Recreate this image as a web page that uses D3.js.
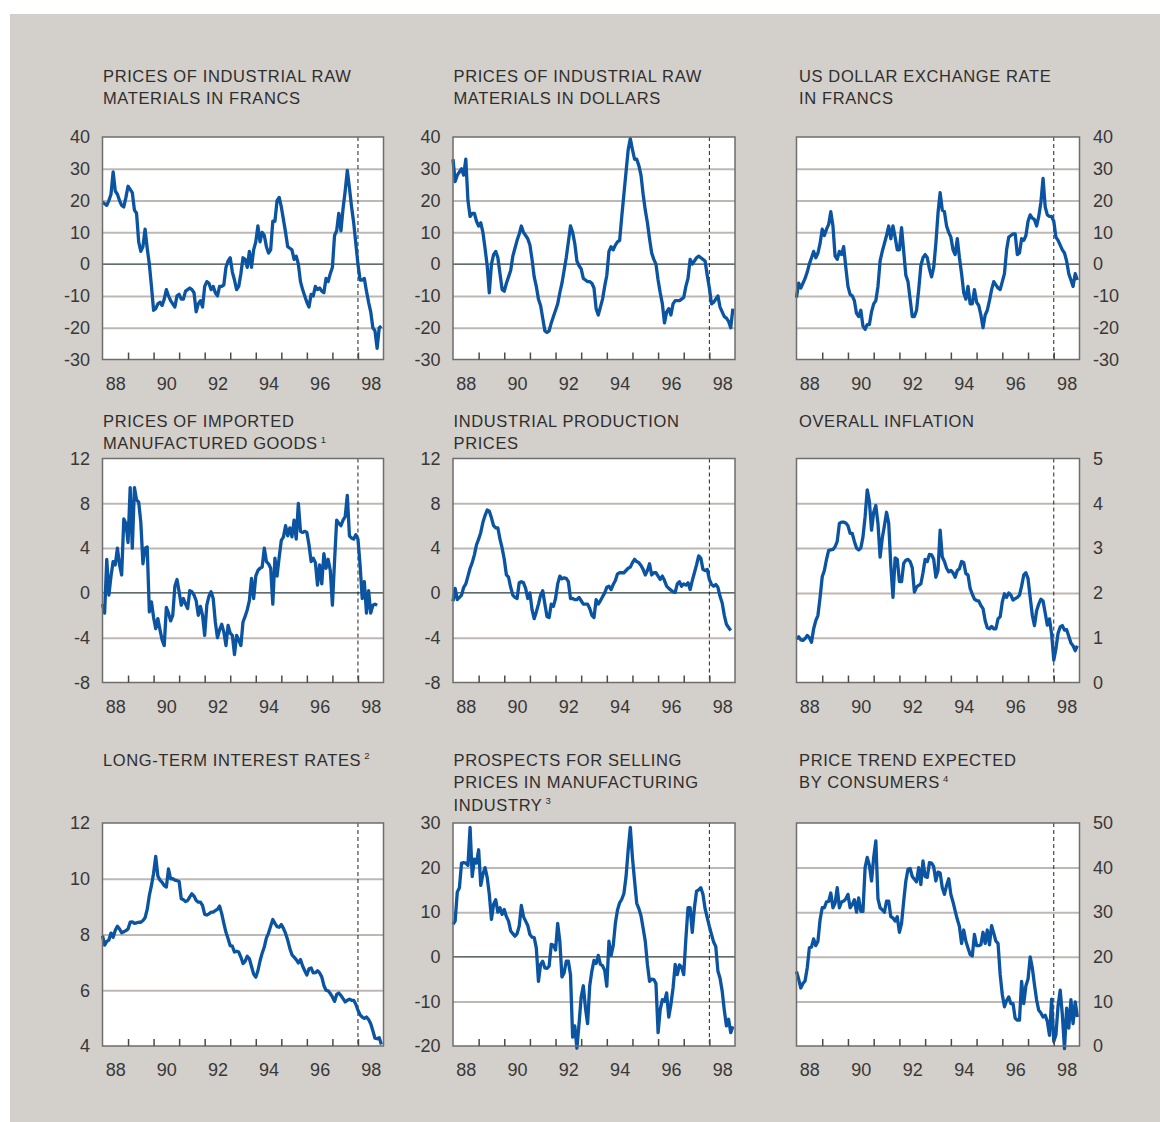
<!DOCTYPE html>
<html>
<head>
<meta charset="utf-8">
<script src="https://cdn.jsdelivr.net/npm/d3@7"></script>
<style>
  html, body { margin: 0; padding: 0; background: #ffffff; }
  svg { display: block; font-family: "Liberation Sans", Arial, Helvetica, sans-serif; }
</style>
</head>
<body>
<svg id="chart" width="1160" height="1122"></svg>
<script>
// Monthly series, January 1988 onwards (year-on-year changes / levels)
const startYear = 1988;
const yearLabels = ["88", "90", "92", "94", "96", "98"];
const labelYears = [1988.5, 1990.5, 1992.5, 1994.5, 1996.5, 1998.5];
const tickYears = [1989, 1990, 1991, 1992, 1993, 1994, 1995, 1996, 1997, 1998];
const forecastStart = 1998;

const rawFrancs = [
  19.5, 19, 18.5, 20, 22, 29, 23, 22, 20, 18.5, 18, 21,
  24.5, 23.5, 22.5, 17, 16, 7, 4, 5.5, 11, 5, 0, -7,
  -14.5, -14, -12.5, -12, -13, -11, -8, -10, -11.5, -12.5, -13.5, -10,
  -9.5, -11, -11, -8.5, -8, -7.5, -8, -9, -15, -12.5, -11.5, -13.5,
  -7, -5.5, -6, -8, -7, -9, -10, -7, -7, -6.5, -1, 1,
  2, -2.5, -5, -8, -7, -3, 2, 1.5, -1, 4, -1, 4.5,
  7, 12, 7, 10, 9, 5.5, 3.5, 4.5, 13.5, 13.5, 20, 21,
  18, 14, 10, 5.5, 5, 4.5, 1.5, 2.5, 0, -5.5, -8, -10,
  -12, -13.5, -9.5, -10, -7, -8, -7.5, -8.5, -9, -4.5, -5.5, -3,
  -1, 9, 10.5, 16, 10.5, 17.5, 23, 29.5, 24, 18, 13, 6.5,
  0, -5, -5, -4.5, -8.5, -12, -15, -20, -21, -26.5, -20, -19.5
];

const rawDollars = [
  33, 26, 28, 29, 30, 28, 33, 20, 15, 16, 16, 13.5,
  12, 13, 10, 5, -0.5, -9, 0, 3, 4, 2, -3, -8,
  -8.5, -6, -4, -2, 2.5, 5, 7.5, 9.5, 12, 10, 9, 8,
  6, 1.5, -4, -7, -11, -13, -17, -21, -21.5, -21, -18.5, -16.5,
  -14.5, -12.5, -9, -6, -2, 2, 7, 12, 10, 6.5, 1, -0.5,
  -1.5, -4.5, -5, -5.5, -5.5, -6, -7.5, -14, -16, -13.5, -11, -7,
  -3.5, 4, 5.5, 4.5, 6, 7, 7.5, 15, 22, 29, 36, 39.5,
  36, 33, 33, 31, 28, 22, 17, 13, 8, 3.5, 1.5, 0,
  -5, -9, -12.5, -18.5, -15, -14, -16, -12.5, -11.5, -11.5, -11.5, -11,
  -10.5, -7, -4.5, 1.5, 0, 1, 2, 2.5, 2, 1.5, 1, -3.5,
  -7.5, -12.5, -12, -11, -10, -13.5, -15, -16.5, -17, -18, -20, -14
];

const dollarRate = [
  -10.5, -6, -7.5, -6, -4.5, -2.5, 0, 2, 4, 2, 3.5, 6.5,
  11, 9, 11, 12.5, 16.5, 12, 2.5, 1.5, 4, 3, 5.5, -1,
  -7, -9.5, -10, -11.5, -15.5, -16.5, -14.5, -19.5, -20.5, -19, -19, -15,
  -12.5, -11.5, -7, 1, 4, 6.5, 9, 12, 8, 12, 8.5, 4.5,
  4.5, 11.5, 4, -3.5, -5.5, -11, -16.5, -16.5, -14.5, -8, -0.5, 2,
  3, 2, -1.5, -4, -1, 6.5, 16, 22.5, 17, 16.5, 12, 10,
  8.5, 4.5, 3, 8, 2, -3, -9, -11, -7, -12.5, -12.5, -8,
  -12, -13, -16, -20, -16, -14.5, -11.5, -8, -5.5, -6.5, -7.5, -8,
  -5.5, -3, 4.5, 8.5, 9, 9.5, 9.5, 3, 3.5, 8, 7.5, 9,
  13.5, 15.5, 14.5, 14, 12, 15, 19.5, 27, 18, 15.5, 15, 15,
  13.5, 8.5, 7.5, 6, 4.5, 3.5, 1, -3, -5, -7, -3, -5
];

const importedGoods = [
  -1, -1.8, 3, -0.2, 1.5, 2.8, 2.5, 4, 2.5, 1.6, 6.6, 6.2,
  4.5, 9.4, 4, 9.4, 8.3, 8.1, 6.3, 2.6, 4, 4.1, -1.7, -0.8,
  -2.2, -3.2, -2.3, -3.3, -4.2, -4.7, -1.3, -1.8, -2.5, -2, 0.6, 1.2,
  0.1, -1.1, -0.5, -1, -1.4, 0.2, 0.1, -0.2, -0.7, -2, -1.2, -2,
  -3.8, -1.1, -0.3, 0.1, -0.5, -2.6, -4, -3.3, -2.8, -3.5, -4.7, -2.9,
  -3.6, -3.8, -5.5, -3.8, -4.2, -4.7, -2.6, -2.1, -1.5, -0.7, 1.3, -0.5,
  1.5, 2, 2.2, 2.3, 4, 2.8, 2.6, 2.2, -1, 3.1, 1.5, 3.2,
  4.7, 5, 6, 5.1, 5.8, 5, 6.5, 4.8, 8, 5.5, 5.4, 5.5,
  5.4, 4.3, 2.8, 3.1, 2.7, 0.7, 2.5, 0.8, 3.5, 2.2, 3, 2,
  -1.1, 2.8, 6.5, 6.2, 6, 6.5, 6.8, 8.7, 5.1, 4.9, 4.8, 5.2,
  4.8, 2.5, -0.5, 1, -1.8, 0.2, -1.8, -1.1, -1, -1.1
];

const productionPrices = [
  -0.75, 0.4, -0.6, -0.4, -0.2, 0.5, 0.8, 1.5, 2.2, 2.7, 3.4, 4.3,
  4.8, 5.4, 6.3, 6.9, 7.4, 7.3, 6.7, 6, 5.8, 5.8, 4.8, 4,
  3, 1.6, 1.4, 0.5, -0.2, -0.4, -0.5, 0.9, 1, 0.9, 0.4, -0.5,
  0, -1.5, -2.3, -1.7, -1, -0.2, 0.2, -1, -2.1, -2.2, -1, -1.2,
  -0.5, 0.8, 1.5, 1.25, 1.35, 1.3, 1, -0.5, -0.5, -0.6, -0.6, -0.4,
  -0.7, -1, -1, -1, -1.4, -2, -2.2, -0.6, -1, -0.7, -0.35, 0,
  0.5, 0.6, 0.3, 0.75, 1.1, 1.7, 1.8, 1.8, 1.8, 2, 2.2, 2.3,
  2.7, 3, 2.8, 2.7, 2.45, 2.1, 1.6, 2, 2.6, 1.6, 1.8, 1.8,
  1.5, 1.2, 1.5, 1.1, 0.6, 0.4, 0.25, 0.1, 0.05, 0.8, 1, 0.6,
  0.8, 0.7, 0.9, 0.3, 1.1, 1.8, 2.5, 3.3, 3.1, 2.1, 2, 2.1,
  1.2, 0.75, 0.6, 0.75, 0.5, -0.3, -0.9, -2, -2.8, -3.1, -3.35
];

const overallInflation = [
  0.97, 1.02, 0.95, 0.94, 0.98, 1.05, 1.0, 0.9, 1.2, 1.38, 1.5, 1.9,
  2.36, 2.5, 2.75, 2.95, 2.96, 2.97, 3.03, 3.15, 3.55, 3.58, 3.58, 3.56,
  3.5, 3.33, 3.33, 3.15, 3.0, 2.96, 3.0, 3.25, 3.7, 4.3, 4.04, 3.4,
  3.8, 3.95, 3.55, 2.8, 3.22, 3.5, 3.8, 3.56, 2.6, 1.9, 2.78, 2.75,
  2.25, 2.25, 2.66, 2.73, 2.75, 2.7, 2.56, 2.02, 2.13, 2.17, 2.2, 2.45,
  2.75, 2.7, 2.86, 2.85, 2.75, 2.35, 2.5, 3.4, 2.8, 2.7, 2.55, 2.47,
  2.5, 2.45, 2.35, 2.5, 2.54, 2.7, 2.68, 2.43, 2.4, 2.1, 1.97, 1.86,
  1.83, 1.82, 1.72, 1.65, 1.38, 1.22, 1.2, 1.25, 1.2, 1.2, 1.42, 1.47,
  1.8, 1.98, 1.9, 2.0, 1.95, 1.84, 1.87, 1.9, 1.95, 2.15, 2.4, 2.45,
  2.32, 1.9, 1.5, 1.27, 1.6, 1.75, 1.86, 1.82, 1.55, 1.28, 1.42, 1.08,
  0.5, 0.75, 1.1, 1.24, 1.27, 1.17, 1.18, 1.03, 0.88, 0.82, 0.71, 0.82
];

const longTermRates = [
  7.96, 7.62, 7.75, 7.8, 8.05, 7.9, 8.15, 8.3, 8.2, 8.06, 8.1, 8.14,
  8.2, 8.44, 8.45, 8.4, 8.42, 8.44, 8.44, 8.5, 8.6, 8.9, 9.4, 9.76,
  10.2, 10.8, 10.1, 9.95, 9.87, 9.75, 9.7, 10.35, 10.0, 10.0, 9.95, 9.93,
  9.9, 9.28, 9.25, 9.18, 9.22, 9.35, 9.46, 9.38, 9.22, 9.16, 9.16, 9.04,
  8.72, 8.7, 8.74, 8.8, 8.8, 8.86, 8.9, 9.02, 8.75, 8.4, 8.08, 7.85,
  7.6, 7.58, 7.37, 7.4, 7.37, 7.19, 6.96, 7.04, 7.22, 7.13, 6.85, 6.58,
  6.47, 6.7, 7.05, 7.33, 7.55, 7.88, 8.05, 8.3, 8.54, 8.4, 8.28, 8.26,
  8.36, 8.22, 8.04, 7.8, 7.5, 7.27, 7.19, 7.1, 6.98, 7.1, 6.87, 6.7,
  6.55, 6.77, 6.8, 6.62, 6.63, 6.7, 6.62, 6.48, 6.17, 6.0, 5.98, 5.88,
  5.76, 5.6, 5.85, 5.9, 5.81, 5.7, 5.58, 5.64, 5.68, 5.64, 5.64, 5.5,
  5.28, 5.12, 5.04, 4.99, 5.04, 4.95, 4.8, 4.55, 4.28, 4.26, 4.3, 4.05
];

const sellingPrices = [
  7.3, 8, 14.5, 15.5, 21, 21.1, 21, 20.5, 29, 18, 21.9, 21,
  24, 16, 18.5, 20, 17.8, 14, 8.4, 11.8, 12.8, 10, 11, 9.5,
  10.6, 9, 8, 5.8, 5.2, 4.6, 5.2, 6.9, 11.5, 9, 8, 7,
  5, 4.4, 4.3, 2, -5.5, -1.7, -1, -2.5, -2.6, -2.1, 2.8, 2.6,
  1.5, 7.5, 3.5, -4.5, -3.6, -1, -1, -4, -18, -15.5, -20.5, -15,
  -9, -6.5, -11.5, -15, -6.5, -3.2, -0.8, -1.5, 0.3, -1.7, -2, -3,
  -6.6, 3.5, 0.3, 2.5, 7.5, 10.5, 12.1, 12.9, 14.2, 18, 24, 29,
  22.2, 17, 12, 10.8, 9.2, 6.4, 3.5, -1.7, -5.5, -5, -5.1, -6,
  -17, -11.8, -9.6, -10, -8.1, -13.5, -10.7, -7, -1.7, -4, -1.8, -2.3,
  -4, 4, 11, 11, 5.5, 11, 14.7, 15, 15.5, 14, 10.8, 8.8,
  6.8, 5, 3.3, 2.3, -3.2, -4.8, -7.7, -12, -15.5, -14, -17, -15.6
];

const consumerTrend = [
  16.7, 15, 13, 14, 14.6, 17.5, 22, 22.2, 24, 22.5, 23.5, 28.3,
  31, 31, 32.3, 32.4, 34.3, 31, 32, 35.5, 31, 32.3, 32.5, 33,
  34, 31, 31.7, 32.8, 30, 33.2, 30.2, 30.2, 40, 42.3, 40.5, 37,
  42.3, 46, 33, 31, 30.5, 30, 32.5, 32.5, 29, 28.7, 28, 29,
  25.5, 27.5, 32.5, 37, 39.6, 39.8, 38, 37.4, 36.8, 40, 36.2, 41.5,
  38, 37.8, 41.1, 41, 40.2, 37, 39, 38.8, 35.5, 34, 36, 37.5,
  34, 32.3, 30.3, 28.4, 26.8, 23, 26, 23.5, 22, 20.5, 20.2, 25,
  22.5, 22.5, 22.7, 25.5, 23, 26, 22.7, 27, 25.3, 23.5, 23, 16,
  11.5, 8.8, 10.2, 11, 9.5, 9.5, 6.2, 5.8, 5.8, 14.5, 9.5, 13.5,
  15, 20, 17.5, 13.7, 10.3, 8, 7.4, 6.5, 6.9, 5.5, 2.4, 10.5,
  1, 2.5, 9, 12.5, 7, -0.6, 8.5, 4, 10.4, 5, 9.9, 6.5
];

// Panel definitions: grid cell, titles, value range and axis ticks
const panels = [
  { col: 0, row: 0, title: ["PRICES OF INDUSTRIAL RAW", "MATERIALS IN FRANCS"], note: "",
    values: rawFrancs, domain: [-30, 40], ticks: [-30, -20, -10, 0, 10, 20, 30, 40], side: "left" },
  { col: 1, row: 0, title: ["PRICES OF INDUSTRIAL RAW", "MATERIALS IN DOLLARS"], note: "",
    values: rawDollars, domain: [-30, 40], ticks: [-30, -20, -10, 0, 10, 20, 30, 40], side: "left" },
  { col: 2, row: 0, title: ["US DOLLAR EXCHANGE RATE", "IN FRANCS"], note: "",
    values: dollarRate, domain: [-30, 40], ticks: [-30, -20, -10, 0, 10, 20, 30, 40], side: "right" },
  { col: 0, row: 1, title: ["PRICES OF IMPORTED", "MANUFACTURED GOODS"], note: "1",
    values: importedGoods, domain: [-8, 12], ticks: [-8, -4, 0, 4, 8, 12], side: "left" },
  { col: 1, row: 1, title: ["INDUSTRIAL PRODUCTION", "PRICES"], note: "",
    values: productionPrices, domain: [-8, 12], ticks: [-8, -4, 0, 4, 8, 12], side: "left" },
  { col: 2, row: 1, title: ["OVERALL INFLATION"], note: "",
    values: overallInflation, domain: [0, 5], ticks: [0, 1, 2, 3, 4, 5], side: "right" },
  { col: 0, row: 2, title: ["LONG-TERM INTEREST RATES"], note: "2",
    values: longTermRates, domain: [4, 12], ticks: [4, 6, 8, 10, 12], side: "left" },
  { col: 1, row: 2, title: ["PROSPECTS FOR SELLING", "PRICES IN MANUFACTURING", "INDUSTRY"], note: "3",
    values: sellingPrices, domain: [-20, 30], ticks: [-20, -10, 0, 10, 20, 30], side: "left" },
  { col: 2, row: 2, title: ["PRICE TREND EXPECTED", "BY CONSUMERS"], note: "4",
    values: consumerTrend, domain: [0, 50], ticks: [0, 10, 20, 30, 40, 50], side: "right" }
];

// Page geometry
const colX = [[102.5, 383.5], [453, 735], [796.5, 1079.5]];
const titleX = [103, 453.5, 799];
const rowY = [[137, 359.5], [458.5, 682.5], [823, 1046]];
const titleY = [81.7, 426.7, 765.7];
const titleGap = 22.5;

const lineColor = "#0a54a2";
const gridColor = "#bdb8b4";
const textColor = "#383838";

const svg = d3.select("#chart");

svg.append("rect")
  .attr("x", 10).attr("y", 14)
  .attr("width", 1150).attr("height", 1108)
  .attr("fill", "#d3cfcb");

panels.forEach(p => {
  const [x0, x1] = colX[p.col];
  const [y0, y1] = rowY[p.row];
  const x = d3.scaleLinear().domain([startYear, 1999]).range([x0, x1]);
  const y = d3.scaleLinear().domain(p.domain).range([y1, y0]);
  const g = svg.append("g");

  // title
  const title = g.append("text")
    .attr("fill", "#2e2e2e")
    .attr("font-size", 16.5)
    .attr("letter-spacing", 0.62);
  p.title.forEach((line, i) => {
    title.append("tspan")
      .attr("x", titleX[p.col])
      .attr("y", titleY[p.row] + i * titleGap)
      .text(line);
  });
  if (p.note) {
    title.append("tspan")
      .attr("dx", 3)
      .attr("dy", -6.5)
      .attr("font-size", 9.5)
      .attr("letter-spacing", 0)
      .text(p.note);
  }

  // plot background
  g.append("rect")
    .attr("x", x0).attr("y", y0)
    .attr("width", x1 - x0).attr("height", y1 - y0)
    .attr("fill", "#ffffff");

  // horizontal grid lines
  const inner = p.ticks.filter(t => t !== p.domain[0] && t !== p.domain[1] && t !== 0);
  g.append("g")
    .attr("transform", `translate(${x0},0)`)
    .call(d3.axisLeft(y).tickValues(inner).tickSize(-(x1 - x0)).tickFormat(""))
    .call(s => s.select(".domain").remove())
    .call(s => s.selectAll("line").attr("stroke", gridColor).attr("stroke-width", 2));

  // zero line
  if (p.domain[0] < 0 && p.domain[1] > 0) {
    g.append("line")
      .attr("x1", x0).attr("x2", x1)
      .attr("y1", y(0)).attr("y2", y(0))
      .attr("stroke", "#2f3d3b").attr("stroke-width", 1.3);
  }

  // start of the projection period
  g.append("line")
    .attr("x1", x(forecastStart)).attr("x2", x(forecastStart))
    .attr("y1", y0).attr("y2", y1)
    .attr("stroke", "#222").attr("stroke-width", 1)
    .attr("stroke-dasharray", "4,3");

  // series
  const line = d3.line()
    .x((d, i) => x(startYear + i / 12))
    .y(d => y(d));
  g.append("path")
    .datum(p.values)
    .attr("d", line)
    .attr("fill", "none")
    .attr("stroke", lineColor)
    .attr("stroke-width", 3.3)
    .attr("stroke-linejoin", "round");

  // frame
  g.append("rect")
    .attr("x", x0).attr("y", y0)
    .attr("width", x1 - x0).attr("height", y1 - y0)
    .attr("fill", "none")
    .attr("stroke", "#6e6e6e").attr("stroke-width", 1.5);

  // year ticks along the bottom edge
  g.append("g")
    .attr("transform", `translate(0,${y1})`)
    .call(d3.axisBottom(x).tickValues(tickYears).tickSize(-7).tickFormat(""))
    .call(s => s.select(".domain").remove())
    .call(s => s.selectAll("line").attr("stroke", "#4a4a4a").attr("stroke-width", 1.5));

  // year labels centred on each even year
  g.append("g")
    .attr("transform", `translate(0,${y1})`)
    .call(d3.axisBottom(x).tickValues(labelYears).tickSize(0).tickPadding(17.5)
      .tickFormat((d, i) => yearLabels[i]))
    .call(s => s.select(".domain").remove())
    .call(s => s.selectAll("text")
      .attr("font-family", "Liberation Sans, Arial, sans-serif")
      .attr("font-size", 18).attr("fill", textColor));

  // value axis
  const yAxis = p.side === "left"
    ? d3.axisLeft(y).tickPadding(12.5)
    : d3.axisRight(y).tickPadding(13.5);
  g.append("g")
    .attr("transform", `translate(${p.side === "left" ? x0 : x1},0)`)
    .call(yAxis.tickValues(p.ticks).tickSize(0).tickFormat(d => String(d)))
    .call(s => s.select(".domain").remove())
    .call(s => s.selectAll("text")
      .attr("font-family", "Liberation Sans, Arial, sans-serif")
      .attr("font-size", 18).attr("fill", textColor));
});
</script>
</body>
</html>
